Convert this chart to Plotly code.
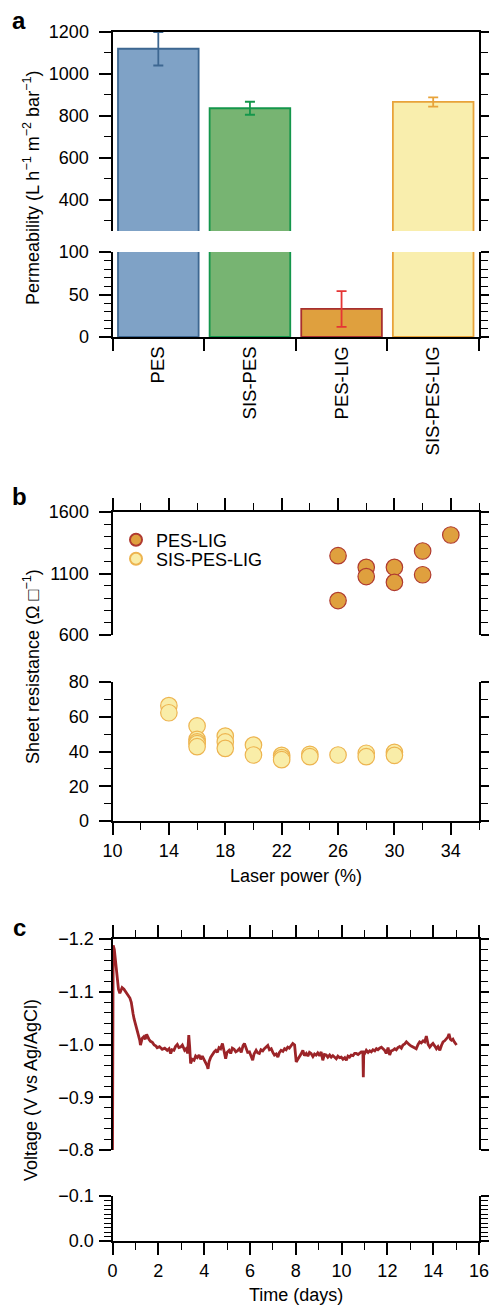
import plotly.graph_objects as go

W, H = 489, 1305

def fy(p):
    return 1 - p / H

def fx(p):
    return p / W

# ---------------- data ----------------
categories = ["PES", "SIS-PES", "PES-LIG", "SIS-PES-LIG"]
permeability = [1120, 836, 33, 866]
perm_err = [80, 31, 21, 22]
bar_fill = ["#7FA2C6", "#77B472", "#DFA03E", "#F9EEAD"]
bar_edge = ["#3D6791", "#14964B", "#A8302E", "#E8A33A"]
err_col = ["#3D6791", "#14964B", "#E53535", "#E8A33A"]

pes_lig_power = [26, 26, 28, 28, 30, 30, 32, 32, 34]
pes_lig_rs = [1245, 880, 1150, 1075, 1150, 1028, 1283, 1090, 1413]
sis_power = [14, 14, 16, 16, 16, 16, 16, 18, 18, 18, 20, 20, 22, 22, 22, 24, 24, 26, 28, 28, 30, 30]
sis_rs = [66.4, 62.3, 54.7, 47.0, 45.5, 44.5, 42.8, 48.9, 45.5, 41.8, 43.7, 38.0,
          37.8, 36.5, 35.3, 38.4, 37.0, 38.0, 39.0, 37.0, 39.5, 37.8]

time_days = [0.00, 0.03, 0.08, 0.13, 0.20, 0.26, 0.32, 0.37, 0.42, 0.50, 0.57, 0.64, 0.70, 0.76,
             0.82, 0.86, 0.90, 0.94, 1.00, 1.05, 1.10, 1.15, 1.19, 1.22, 1.26, 1.30, 1.37, 1.43,
             1.49, 1.55, 1.59, 1.66, 1.74, 1.82, 1.90, 1.95, 2.05, 2.17, 2.28, 2.39, 2.47, 2.54,
             2.60, 2.68, 2.75, 2.83, 2.90, 2.97, 3.05, 3.15, 3.22, 3.28, 3.33, 3.37, 3.41, 3.48,
             3.56, 3.63, 3.70, 3.78, 3.85, 3.92, 4.00, 4.07, 4.13, 4.17, 4.22, 4.29, 4.36, 4.44,
             4.51, 4.58, 4.65, 4.72, 4.80, 4.87, 4.94, 5.00, 5.09, 5.16, 5.23, 5.31, 5.38, 5.45,
             5.54, 5.62, 5.70, 5.76, 5.84, 5.90, 5.98, 6.05, 6.12, 6.18, 6.27, 6.34, 6.41, 6.48,
             6.56, 6.63, 6.70, 6.78, 6.85, 6.93, 7.00, 7.07, 7.15, 7.22, 7.29, 7.36, 7.44, 7.51,
             7.58, 7.65, 7.72, 7.80, 7.87, 7.95, 7.98, 8.02, 8.09, 8.16, 8.23, 8.31, 8.38, 8.46,
             8.53, 8.60, 8.67, 8.75, 8.82, 8.89, 8.96, 9.04, 9.11, 9.18, 9.25, 9.33, 9.40, 9.48,
             9.55, 9.62, 9.70, 9.77, 9.84, 9.92, 9.99, 10.06, 10.14, 10.21, 10.28, 10.35, 10.42,
             10.50, 10.57, 10.64, 10.72, 10.79, 10.86, 10.93, 10.95, 10.97, 11.02, 11.08, 11.16,
             11.23, 11.30, 11.37, 11.45, 11.52, 11.59, 11.66, 11.74, 11.81, 11.88, 11.95, 12.03,
             12.10, 12.17, 12.24, 12.32, 12.39, 12.46, 12.54, 12.61, 12.68, 12.76, 12.83, 12.90,
             12.97, 13.04, 13.11, 13.19, 13.26, 13.34, 13.41, 13.48, 13.56, 13.63, 13.70, 13.78,
             13.85, 13.92, 13.99, 14.07, 14.14, 14.21, 14.29, 14.36, 14.43, 14.50, 14.58, 14.64,
             14.69, 14.75, 14.80, 14.86, 14.92, 14.97, 15.02]
voltage = [-0.800, -1.188, -1.180, -1.157, -1.125, -1.105, -1.097, -1.103, -1.108, -1.105, -1.100,
           -1.096, -1.093, -1.088, -1.080, -1.072, -1.058, -1.049, -1.040, -1.033, -1.025, -1.018,
           -1.008, -0.999, -1.008, -1.012, -1.015, -1.010, -1.019, -1.013, -1.010, -1.006, -1.004,
           -0.999, -0.997, -0.994, -0.996, -0.991, -0.993, -0.989, -0.992, -0.983, -0.990, -0.989,
           -0.996, -1.000, -0.994, -0.995, -0.999, -0.989, -0.992, -0.983, -1.018, -0.995, -0.964,
           -0.972, -0.970, -0.978, -0.975, -0.980, -0.972, -0.978, -0.972, -0.967, -0.960, -0.954,
           -0.968, -0.976, -0.982, -0.986, -0.989, -0.985, -0.994, -0.992, -1.002, -0.990, -0.973,
           -0.985, -0.989, -0.983, -0.993, -0.991, -0.986, -0.988, -0.992, -0.985, -0.998, -1.002,
           -0.990, -0.985, -0.986, -0.978, -0.970, -0.982, -0.989, -0.984, -0.983, -0.990, -0.988,
           -0.992, -0.994, -0.998, -0.990, -0.992, -0.985, -0.980, -0.982, -0.976, -0.985, -0.989,
           -0.987, -0.992, -0.990, -0.995, -0.993, -0.998, -1.002, -0.999, -0.985, -0.967, -0.972,
           -0.976, -0.982, -0.989, -0.979, -0.983, -0.978, -0.985, -0.983, -0.977, -0.982, -0.980,
           -0.984, -0.979, -0.986, -0.970, -0.981, -0.980, -0.976, -0.980, -0.976, -0.979, -0.975,
           -0.973, -0.978, -0.975, -0.976, -0.972, -0.975, -0.970, -0.978, -0.976, -0.980, -0.979,
           -0.983, -0.983, -0.981, -0.984, -0.986, -0.986, -0.938, -0.986, -0.984, -0.989, -0.985,
           -0.988, -0.986, -0.990, -0.988, -0.992, -0.990, -0.993, -0.995, -0.992, -0.989, -0.983,
           -0.994, -0.980, -0.988, -0.989, -0.992, -0.990, -0.994, -0.996, -0.993, -0.999, -1.001,
           -1.005, -1.001, -0.999, -0.997, -0.995, -0.994, -0.992, -1.000, -1.005, -1.003, -1.007,
           -1.005, -1.016, -1.000, -0.995, -0.999, -1.002, -0.997, -0.992, -0.996, -0.989, -0.998,
           -1.005, -1.007, -1.011, -1.014, -1.020, -1.010, -1.008, -1.010, -1.005, -1.002, -0.999]

FONT = "Liberation Sans, Arial, Helvetica, sans-serif"
TICKF = dict(family=FONT, size=18, color="black")

fig = go.Figure()

# ---------------- panel a ----------------
for i, c in enumerate(categories):
    for xa, ya in (("x", "y"), ("x2", "y2")):
        fig.add_trace(go.Bar(
            x=[c], y=[permeability[i]], width=0.88,
            marker=dict(color=bar_fill[i], line=dict(color=bar_edge[i], width=1.8)),
            error_y=dict(type="data", array=[perm_err[i]], color=err_col[i], thickness=1.8, width=5),
            xaxis=xa, yaxis=ya, showlegend=False, hoverinfo="skip"))

# ---------------- panel b ----------------
fig.add_trace(go.Scatter(
    x=pes_lig_power, y=pes_lig_rs, mode="markers", name="PES-LIG", legend="legend",
    marker=dict(size=16.5, color="#DFA03E", line=dict(color="#B03B30", width=1.2)),
    xaxis="x4", yaxis="y4", hoverinfo="skip"))
fig.add_trace(go.Scatter(
    x=sis_power, y=sis_rs, mode="markers", name="SIS-PES-LIG", legend="legend2",
    marker=dict(size=16.5, color="#F9EDA8", line=dict(color="#EDB450", width=1.2)),
    xaxis="x3", yaxis="y3", hoverinfo="skip"))

# ---------------- panel c ----------------
fig.add_trace(go.Scatter(
    x=time_days, y=voltage, mode="lines", line=dict(color="#9C2428", width=2.8),
    xaxis="x6", yaxis="y6", showlegend=False, hoverinfo="skip"))
fig.add_trace(go.Scatter(x=[], y=[], mode="lines", xaxis="x5", yaxis="y5", showlegend=False))

XD = [fx(112.5), fx(479)]

def yax(dom, rng, dtick, minor_dtick, tick0=0, fmt=None, anchor="x", standoff=6):
    d = dict(domain=dom, range=rng, anchor=anchor, showline=True, linecolor="black", linewidth=2,
             mirror="ticks", ticks="outside", ticklen=12, tickwidth=1.6, tickcolor="black",
             dtick=dtick, tick0=tick0, showgrid=False, zeroline=False, tickfont=TICKF,
             automargin=False, ticklabelstandoff=standoff,
             minor=dict(dtick=minor_dtick, tick0=tick0, ticks="outside", ticklen=7,
                        tickwidth=1.4, tickcolor="black", showgrid=False))
    if fmt:
        d["tickformat"] = fmt
    return d

def xlin(rng, anchor, side, tickvals, minor_dtick, labels=True, match=None):
    d = dict(domain=XD, range=rng, anchor=anchor, side=side, showline=True, linecolor="black",
             linewidth=2, ticks="outside", ticklen=12, tickwidth=1.6, tickcolor="black",
             tickmode="array", tickvals=tickvals, showticklabels=labels, showgrid=False,
             zeroline=False, tickfont=TICKF, automargin=False, ticklabeloverflow="allow",
             minor=dict(dtick=minor_dtick, tick0=rng[0], ticks="outside", ticklen=7,
                        tickwidth=1.4, tickcolor="black", showgrid=False))
    if match:
        d["matches"] = match
    return d

b_ticks = [10, 14, 18, 22, 26, 30, 34]
c_ticks = [0, 2, 4, 6, 8, 10, 12, 14, 16]

LEGF = dict(family=FONT, size=18, color="black")

fig.update_layout(
    template="none",
    width=W, height=H, margin=dict(l=0, r=0, t=0, b=0, pad=0, autoexpand=False),
    paper_bgcolor="white", plot_bgcolor="rgba(0,0,0,0)",
    barmode="overlay", font=dict(family=FONT, size=18, color="black"),
    # panel a
    xaxis=dict(domain=XD, type="category", categoryorder="array", categoryarray=categories,
               anchor="y", showline=True, linecolor="black", linewidth=2, ticks="outside",
               tickson="boundaries", ticklen=12, tickwidth=1.8, tickcolor="black",
               tickangle=-90, tickfont=dict(family=FONT, size=18.5, color="black"),
               showgrid=False, range=[-0.5, 3.5], automargin=False),
    xaxis2=dict(domain=XD, type="category", categoryorder="array", categoryarray=categories,
                anchor="y2", side="top", showline=True, linecolor="black", linewidth=2,
                ticks="", showticklabels=False, showgrid=False, matches="x", automargin=False),
    yaxis=yax([fy(337), fy(252)], [0, 100], 50, 10, anchor="x"),
    yaxis2=yax([fy(231), fy(32)], [250, 1200], 200, 100, anchor="x2"),
    # panel b
    xaxis3=xlin([10, 36], "y3", "bottom", b_ticks, 2),
    xaxis4=xlin([10, 36], "y4", "top", b_ticks, 2, labels=False, match="x3"),
    yaxis3=yax([fy(821), fy(682)], [0, 80], 20, 10, anchor="x3"),
    yaxis4=yax([fy(635), fy(512)], [600, 1600], 500, 100, tick0=600, anchor="x4"),
    # panel c
    xaxis5=xlin([0, 16], "y5", "bottom", c_ticks, 1),
    xaxis6=xlin([0, 16], "y6", "top", c_ticks, 1, labels=False, match="x5"),
    yaxis5=yax([fy(1241), fy(1196)], [0, -0.1], 0.1, 0.01, fmt=".1f", anchor="x5", standoff=1),
    yaxis6=yax([fy(1150), fy(939)], [-0.8, -1.2], 0.1, 0.02, fmt=".1f", anchor="x6", standoff=1),
    legend=dict(x=fx(116), y=fy(540), xanchor="left", yanchor="middle",
                bgcolor="rgba(0,0,0,0)", font=LEGF, itemsizing="constant"),
    legend2=dict(x=fx(116), y=fy(559), xanchor="left", yanchor="middle",
                 bgcolor="rgba(0,0,0,0)", font=LEGF, itemsizing="constant"),
)

ann = []
for lab, yy in (("a", 21), ("b", 497), ("c", 927)):
    ann.append(dict(text=f"<b>{lab}</b>", x=fx(19), y=fy(yy), xref="paper", yref="paper",
                    xanchor="center", yanchor="middle",
                    showarrow=False, font=dict(family=FONT, size=24, color="black")))
ytitles = [("Permeability (L h<sup>\u22121</sup> m<sup>\u22122</sup> bar<sup>\u22121</sup>)", 188),
           ("Sheet resistance (\u03a9 \u25a1<sup>\u22121</sup>)", 667),
           ("Voltage (V vs Ag/AgCl)", 1090)]
for t, yy in ytitles:
    ann.append(dict(text=t, x=fx(31), y=fy(yy), xref="paper", yref="paper", textangle=-90,
                    xanchor="center", yanchor="middle",
                    showarrow=False, font=dict(family=FONT, size=18, color="black")))
for t, yy in (("Laser power (%)", 876), ("Time (days)", 1295)):
    ann.append(dict(text=t, x=fx(296), y=fy(yy), xref="paper", yref="paper",
                    xanchor="center", yanchor="middle",
                    showarrow=False, font=dict(family=FONT, size=18, color="black")))
fig.update_layout(annotations=ann)

fig.write_html("out.html", config={"displayModeBar": False},
               post_script="document.body.style.margin='0px';document.body.style.overflow='hidden';")
